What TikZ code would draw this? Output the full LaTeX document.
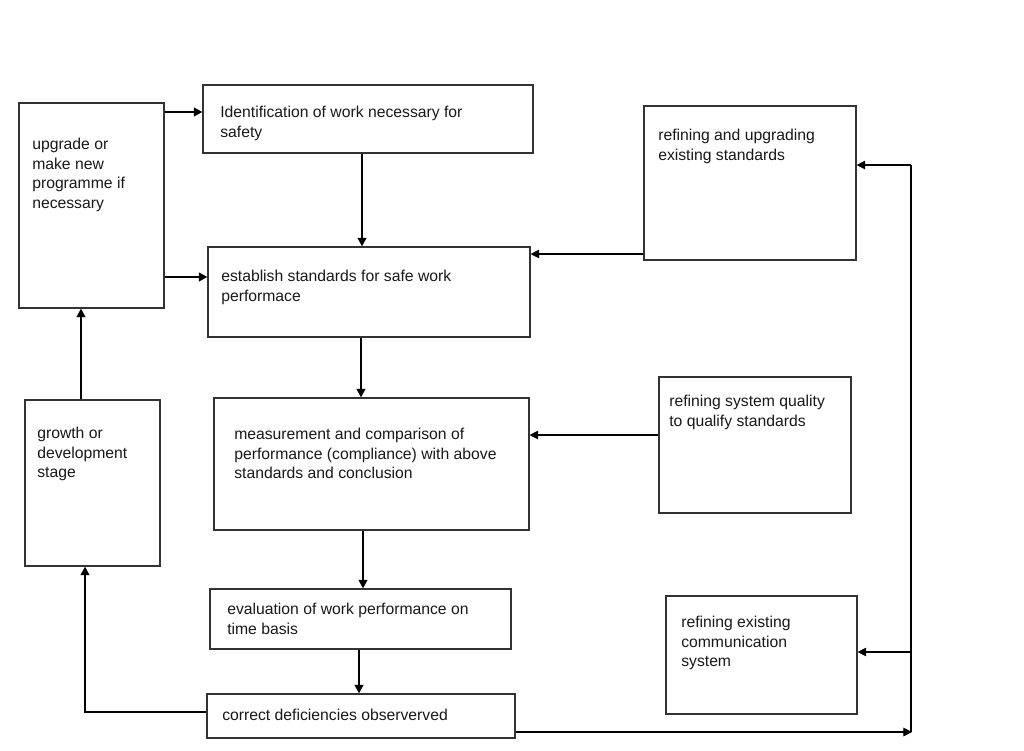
\documentclass[tikz,border=0pt]{standalone}
\usepackage{fontspec}
\setmainfont{Liberation Sans}
\usetikzlibrary{arrows.meta,fit}
\begin{document}
\begin{tikzpicture}[x=0.75pt,y=-0.75pt,
  box/.style={draw=black!80,line width=0.85pt,inner sep=0pt,fit={#1}},
  txt/.style={anchor=north west,inner sep=0pt,align=left,font=\fontsize{11.8}{14.6}\selectfont,text=black!90},
  thk/.style={line width=1.7pt,-{Triangle[length=6.5pt,width=6.5pt]}},
  thn/.style={line width=0.8pt,-{Triangle[length=6.5pt,width=6.5pt]}},
  thnline/.style={line width=0.8pt}]
\path[fill=white] (0,0) rectangle (1024,750);
\useasboundingbox (0,0) rectangle (1024,750);
% boxes
\node[box={(19,103) (164,308)}] (A) {};
\node[box={(203,85) (533,153)}] (B) {};
\node[box={(208,247) (530,337)}] (C) {};
\node[box={(214,398) (529,530)}] (D) {};
\node[box={(210,589) (511,649)}] (E) {};
\node[box={(207,694) (515,738)}] (F) {};
\node[box={(25,400) (160,566)}] (G) {};
\node[box={(644,106) (856,260)}] (H) {};
\node[box={(659,377) (851,513)}] (I) {};
\node[box={(666,596) (857,714)}] (J) {};
% texts
\node[txt] (tA) at (32,138) {upgrade or\\make new\\programme if\\necessary};
\node[txt] (tB) at (220,106) {Identification of work necessary for\\safety};
\node[txt] (tC) at (221,270) {establish standards for safe work\\performace};
\node[txt] (tD) at (234,428) {measurement and comparison of\\performance (compliance) with above\\standards and conclusion};
\node[txt] (tE) at (227,603) {evaluation of work performance on\\time basis};
\node[txt] (tF) at (222,709) {correct deficiencies observerved};
\node[txt] (tG) at (37,427) {growth or\\development\\stage};
\node[txt] (tH) at (658,129) {refining and upgrading\\existing standards};
\node[txt] (tI) at (669,395) {refining system quality\\to qualify standards};
\node[txt] (tJ) at (681,616) {refining existing\\communication\\system};
% main vertical flow
\draw[thk] (A.east |- 0,112) -- (B.west |- 0,112);
\draw[thk] (A.east |- 0,277) -- (C.west |- 0,277);
\draw[thk] (B.south -| 362,0) -- (C.north -| 362,0);
\draw[thk] (C.south -| 361,0) -- (D.north -| 361,0);
\draw[thk] (D.south -| 363,0) -- (E.north -| 363,0);
\draw[thk] (E.south -| 359,0) -- (F.north -| 359,0);
% left loop
\draw[thk] (G.north -| 81,0) -- (A.south -| 81,0);
\coordinate (lc) at (85,712);
\coordinate (lv) at (85,677);
\draw[thnline] (F.west |- lc) -- (lc) -- (lv);
\draw[thk] (lv) -- (G.south -| lv);
% right side feedback
\draw[thn] (H.west |- 0,254) -- (C.east |- 0,254);
\draw[thn] (I.west |- 0,435) -- (D.east |- 0,435);
\coordinate (bb) at (912,732);
\coordinate (bt) at (911,165);
\coordinate (bm) at (911,652);
\draw[thn] (F.east |- bb) -- (bb);
\draw[thnline] (bb -| bt) -- (bt);
\draw[thn] (bt) -- (H.east |- bt);
\draw[thn] (bm) -- (J.east |- bm);
\end{tikzpicture}
\end{document}
